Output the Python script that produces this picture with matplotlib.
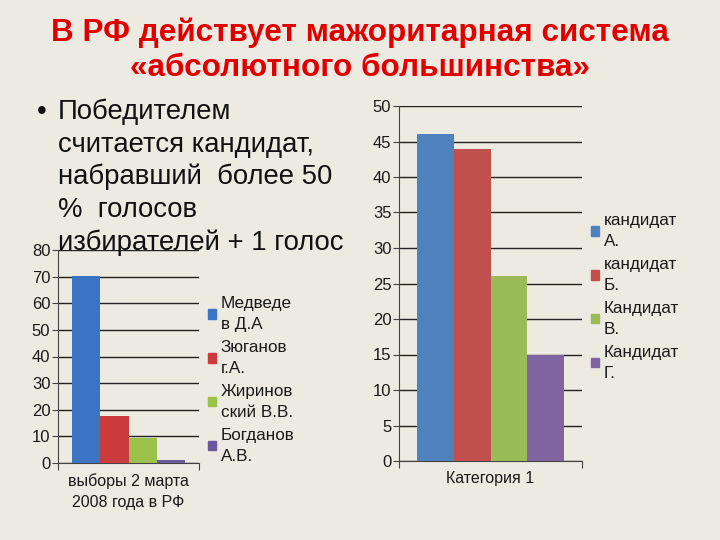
# Слайд: мажоритарная система, две столбчатые диаграммы

import matplotlib.pyplot as plt
from matplotlib.patches import Patch

BG = '#edeae2'

# левая диаграмма - выборы 2008
left_names = ['Медведе\nв Д.А', 'Зюганов\nг.А.', 'Жиринов\nский В.В.', 'Богданов\nА.В.']
left_vals = [70.3, 17.7, 9.4, 1.3]
left_cat = 'выборы 2 марта\n2008 года в РФ'
left_ticks = [0, 10, 20, 30, 40, 50, 60, 70, 80]

# правая диаграмма - условный пример
right_names = ['кандидат\nА.', 'кандидат\nБ.', 'Кандидат\nВ.', 'Кандидат\nГ.']
right_vals = [46, 44, 26, 15]
right_cat = 'Категория 1'
right_ticks = [0, 5, 10, 15, 20, 25, 30, 35, 40, 45, 50]

bullet_lines = ['Победителем', 'считается кандидат,', 'набравший  более 50',
                '%  голосов', 'избирателей + 1 голос']

LEFT_COLORS = ['#3a74c2', '#cb3b3d', '#9bc14a', '#6a5a9a']
RIGHT_COLORS = ['#4f81bd', '#c0504d', '#9bbb59', '#8064a2']

FONT = 'Liberation Sans'


def doBars(ax, vals, colors, ticks, cat):
    offsets = [-0.3, -0.1, 0.1, 0.3]
    for i in range(len(vals)):
        ax.bar(offsets[i], vals[i], width=0.2, color=colors[i], zorder=3)
    ax.set_xlim(-0.5, 0.5)
    ax.set_ylim(ticks[0], ticks[-1])
    ax.set_yticks(ticks)
    ax.set_facecolor('none')
    ax.grid(axis='y', color='#222222', lw=1.0, zorder=0)
    ax.spines['top'].set_visible(False)
    ax.spines['right'].set_visible(False)
    ax.spines['left'].set_color('#444444')
    ax.spines['bottom'].set_color('#444444')
    ax.set_xticks([-0.5, 0.5])
    ax.set_xticklabels(['', ''])
    ax.set_xticks([0], [cat], minor=True)
    ax.tick_params(axis='x', which='major', direction='out', length=5, color='#444444')
    ax.tick_params(axis='x', which='minor', length=0, pad=7, labelsize=11.5)
    ax.tick_params(axis='y', direction='out', length=4, color='#444444', labelsize=12, pad=1.5)
    for lab in ax.get_yticklabels() + ax.get_xticklabels(minor=True):
        lab.set_family(FONT)
        lab.set_color('#1a1a1a')
        lab.set_linespacing(1.5)


def doLegend(fig, names, colors, x, y):
    handles = [Patch(color=c, label=n) for c, n in zip(colors, names)]
    leg = fig.legend(handles=handles, loc='upper left', bbox_to_anchor=(x, y),
                     frameon=False, handlelength=0.45, handleheight=0.45,
                     handletextpad=0.3, labelspacing=0.45, borderaxespad=0,
                     borderpad=0, prop={'family': FONT, 'size': 12.3})
    for t in leg.get_texts():
        t.set_linespacing(1.52)
        t.set_color('#1a1a1a')


def main():
    fig = plt.figure(figsize=(7.2, 5.4), dpi=100, facecolor=BG)

    fig.text(0.5, 1 - 33 / 540, 'В РФ действует мажоритарная система',
             ha='center', va='center', color='#e00000', fontsize=22.7,
             fontweight='bold', family=FONT)
    fig.text(0.5, 1 - 68 / 540, '«абсолютного большинства»',
             ha='center', va='center', color='#e00000', fontsize=22.7,
             fontweight='bold', family=FONT)

    fig.text(37 / 720, 1 - 119 / 540, '•', ha='left', va='baseline',
             fontsize=20, family=FONT, color='#111111')
    for i, line in enumerate(bullet_lines):
        fig.text(58 / 720, 1 - (119 + i * 32.75) / 540, line,
                 ha='left', va='baseline', fontsize=19.8, family=FONT,
                 color='#111111')

    axL = fig.add_axes([58 / 720, 1 - 463 / 540, 141 / 720, 213 / 540])
    doBars(axL, left_vals, LEFT_COLORS, left_ticks, left_cat)
    doLegend(fig, left_names, LEFT_COLORS, 208 / 720, 1 - 296 / 540)

    axR = fig.add_axes([399 / 720, 1 - 461 / 540, 183 / 720, 355 / 540])
    doBars(axR, right_vals, RIGHT_COLORS, right_ticks, right_cat)
    doLegend(fig, right_names, RIGHT_COLORS, 591 / 720, 1 - 213 / 540)

    fig.savefig('out.png', dpi=100, facecolor=BG)


if __name__ == '__main__':
    main()
